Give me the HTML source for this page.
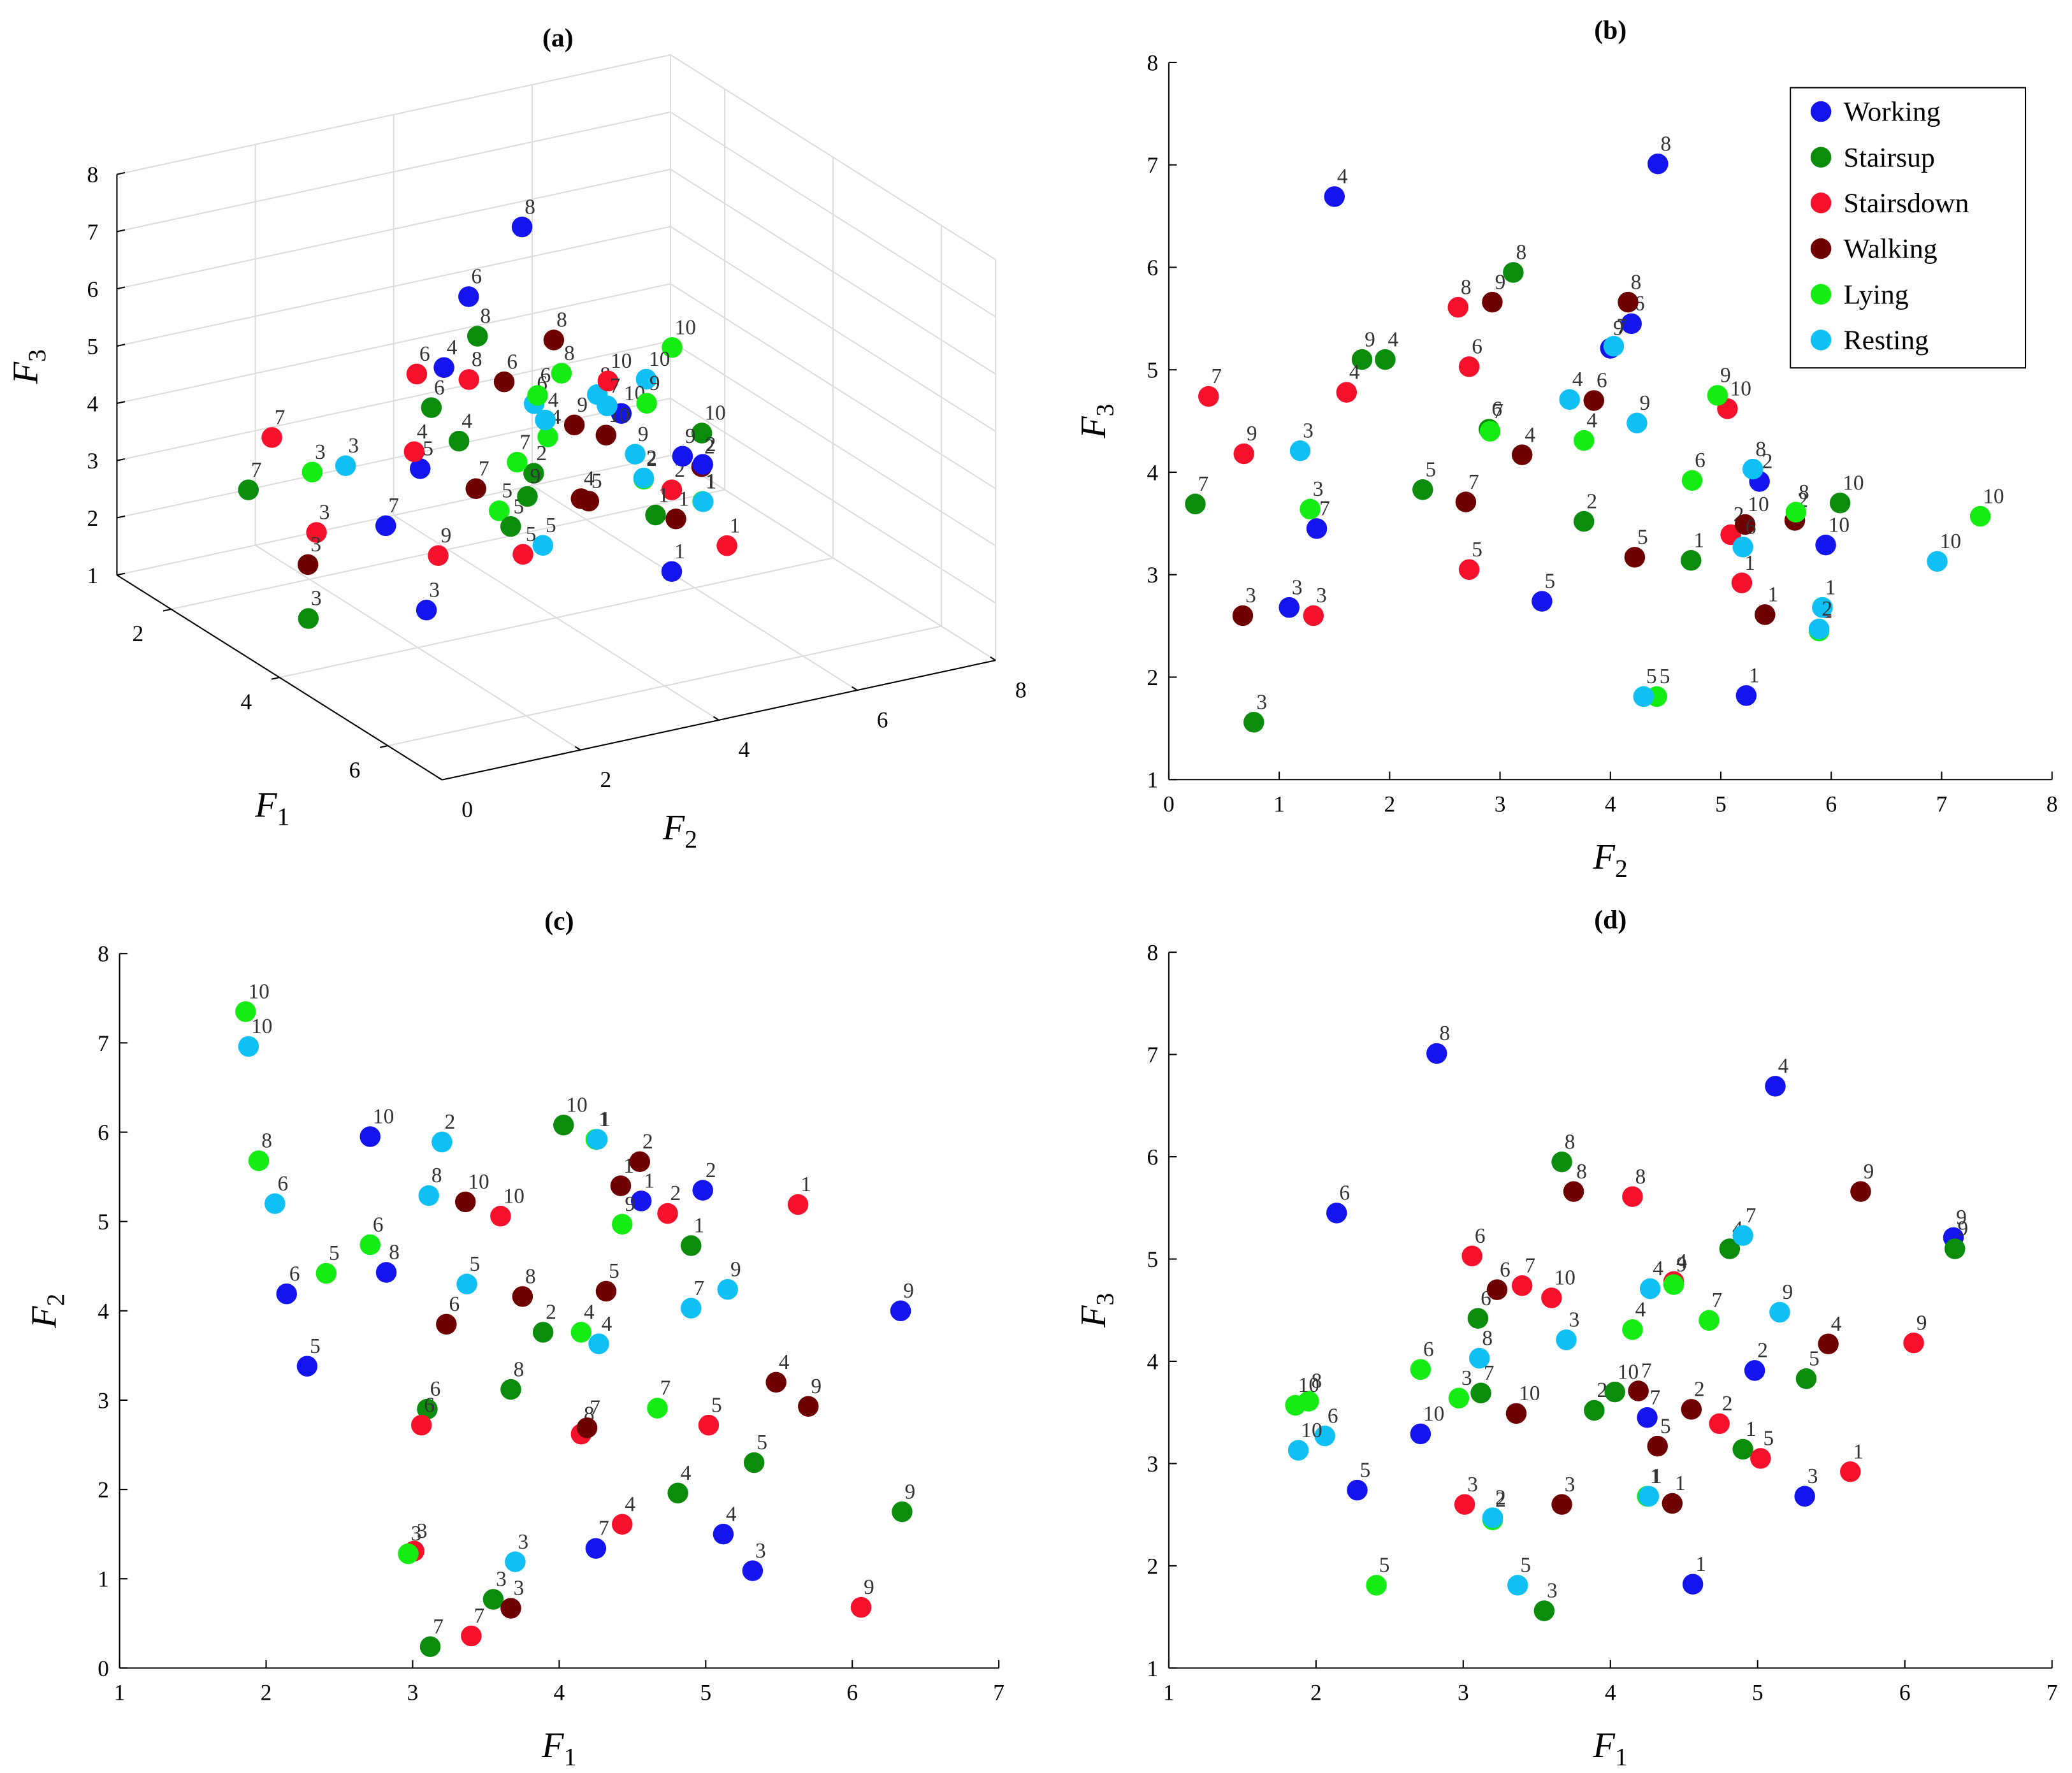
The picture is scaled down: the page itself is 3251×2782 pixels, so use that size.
<!DOCTYPE html>
<html><head><meta charset="utf-8"><title>Feature scatter</title>
<style>
html,body{margin:0;padding:0;background:#fff;}
svg{display:block;font-family:"Liberation Serif","DejaVu Serif",serif;}
</style></head>
<body>
<svg id="fig" xmlns="http://www.w3.org/2000/svg" width="3251" height="2782" viewBox="0 0 1560 1335">
<rect x="0" y="0" width="1560" height="1335" fill="#fff"/>
</svg>
<script>
// ---- data ----
const classNames = ["Working","Stairsup","Stairsdown","Walking","Lying","Resting"];
const classColors = ["#1414ee","#0c8c0c","#f5102c","#6e0000","#14ec14","#10c0f4"];
const pointLabels = [1,2,3,4,5,6,7,8,9,10];
const workingF1 = [4.56,4.98,5.32,5.12,2.28,2.14,4.25,2.82,6.33,2.71];
const workingF2 = [5.23,5.35,1.09,1.50,3.38,4.19,1.34,4.43,4.00,5.95];
const workingF3 = [1.82,3.91,2.68,6.69,2.74,5.45,3.45,7.01,5.21,3.29];
const stairsupF1 = [4.90,3.89,3.55,4.81,5.33,3.10,3.12,3.67,6.34,4.03];
const stairsupF2 = [4.73,3.76,0.77,1.96,2.30,2.90,0.24,3.12,1.75,6.08];
const stairsupF3 = [3.14,3.52,1.56,5.10,3.83,4.42,3.69,5.95,5.10,3.70];
const stairsdownF1 = [5.63,4.74,3.01,4.43,5.02,3.06,3.40,4.15,6.06,3.60];
const stairsdownF2 = [5.19,5.09,1.31,1.61,2.72,2.72,0.36,2.62,0.68,5.06];
const stairsdownF3 = [2.92,3.39,2.60,4.78,3.05,5.03,4.74,5.61,4.18,4.62];
const walkingF1 = [4.42,4.55,3.67,5.48,4.32,3.23,4.19,3.75,5.70,3.36];
const walkingF2 = [5.40,5.67,0.67,3.20,4.22,3.85,2.69,4.16,2.93,5.22];
const walkingF3 = [2.61,3.53,2.60,4.17,3.17,4.70,3.71,5.66,5.66,3.49];
const lyingF1 = [4.25,3.20,2.97,4.15,2.41,2.71,4.67,1.95,4.43,1.86];
const lyingF2 = [5.92,5.89,1.28,3.76,4.42,4.74,2.91,5.68,4.97,7.35];
const lyingF3 = [2.68,2.45,3.64,4.31,1.81,3.92,4.40,3.61,4.75,3.57];
const restingF1 = [4.26,3.20,3.70,4.27,3.37,2.06,4.90,3.11,5.15,1.88];
const restingF2 = [5.92,5.89,1.19,3.63,4.30,5.20,4.03,5.29,4.24,6.96];
const restingF3 = [2.68,2.47,4.21,4.71,1.81,3.27,5.23,4.03,4.48,3.13];
const f1Ticks = [1,2,3,4,5,6,7];
const f2Ticks = [0,1,2,3,4,5,6,7,8];
const f3Ticks = [1,2,3,4,5,6,7,8];

const allF1 = [workingF1,stairsupF1,stairsdownF1,walkingF1,lyingF1,restingF1];
const allF2 = [workingF2,stairsupF2,stairsdownF2,walkingF2,lyingF2,restingF2];
const allF3 = [workingF3,stairsupF3,stairsdownF3,walkingF3,lyingF3,restingF3];

const NS = "http://www.w3.org/2000/svg";
const svg = document.getElementById("fig");
function mk(tag, attrs, parent){
  const e = document.createElementNS(NS, tag);
  for (const k in attrs) e.setAttribute(k, attrs[k]);
  (parent||svg).appendChild(e);
  return e;
}
function txt(s, x, y, size, anchor, parent, extra){
  const t = mk("text", Object.assign({x:x, y:y, "font-size":size, "text-anchor":anchor||"middle", fill:"#000"}, extra||{}), parent);
  t.textContent = s;
  return t;
}
function axisLabel(name, sub, x, y, parent, rot){
  const t = mk("text", {x:x, y:y, "font-size":27, "text-anchor":"middle", fill:"#000", "font-style":"italic"}, parent);
  if (rot) t.setAttribute("transform", "rotate(-90 "+x+" "+y+")");
  const a = document.createElementNS(NS,"tspan"); a.textContent = name; t.appendChild(a);
  const b = document.createElementNS(NS,"tspan"); b.setAttribute("font-size","19"); b.setAttribute("font-style","normal"); b.setAttribute("dy","6"); b.textContent = sub; t.appendChild(b);
  return t;
}
const R = 7.8;
function drawPoint(g, px, py, ci, li){
  const c = mk("circle", {cx:px, cy:py, r:R, fill:classColors[ci]}, g);
  
  
  const t = txt(String(pointLabels[li]), px + 2, py - 10, 16, "start", g, {fill:"#333"});
  
  
}

// ---- 2D panel ----
function panel2D(name, title, box, xr, yr, xTicks, yTicks, xs, ys, xl, yl){
  const g = mk("g", {});
  
  
  const [x0,y0,x1,y1] = box;
  const sx = v => x0 + (v - xr[0]) / (xr[1]-xr[0]) * (x1-x0);
  const sy = v => y1 - (v - yr[0]) / (yr[1]-yr[0]) * (y1-y0);
  mk("line", {x1:x0, y1:y1, x2:x1, y2:y1, stroke:"#000", "stroke-width":1}, g);
  mk("line", {x1:x0, y1:y0, x2:x0, y2:y1, stroke:"#000", "stroke-width":1}, g);
  xTicks.forEach(v => {
    mk("line", {x1:sx(v), y1:y1, x2:sx(v), y2:y1-6, stroke:"#000"}, g);
    txt(String(v), sx(v), y1+24, 17, "middle", g);
  });
  yTicks.forEach(v => {
    mk("line", {x1:x0, y1:sy(v), x2:x0+6, y2:sy(v), stroke:"#000"}, g);
    txt(String(v), x0-8, sy(v)+6, 17, "end", g);
  });
  const tt = txt(title, (x0+x1)/2, y0-18, 20, "middle", g, {"font-weight":"bold"});
  
  
  const xa = axisLabel(xl[0], xl[1], (x0+x1)/2, y1+67, g, false);
  
  
  const ya = axisLabel(yl[0], yl[1], x0-48, (y0+y1)/2, g, true);
  
  
  for (let ci=0; ci<6; ci++){
    for (let li=0; li<10; li++){
      drawPoint(g, sx(xs[ci][li]), sy(ys[ci][li]), ci, li);
    }
  }
  return g;
}

// ---- 3D panel (a) ----
(function(){
  const g = mk("g", {});
  
  
  const O = [88,433], U1 = [40.8,25.7], U2 = [52.1,-11.25], U3 = 43.1;
  const P = (a,b,c) => [O[0] + (a-1)*U1[0] + b*U2[0], O[1] + (a-1)*U1[1] + b*U2[1] - (c-1)*U3];
  const gl = (p,q) => mk("line", {x1:p[0], y1:p[1], x2:q[0], y2:q[1], stroke:"#dcdcdc", "stroke-width":1}, g);
  [0,2,4,6,8].forEach(b => gl(P(1,b,1), P(1,b,8)));
  f3Ticks.forEach(c => gl(P(1,0,c), P(1,8,c)));
  [1,2,4,6,7].forEach(a => gl(P(a,8,1), P(a,8,8)));
  f3Ticks.forEach(c => gl(P(1,8,c), P(7,8,c)));
  [2,4,6].forEach(a => gl(P(a,0,1), P(a,8,1)));
  [2,4,6,8].forEach(b => gl(P(1,b,1), P(7,b,1)));
  const al = (p,q) => mk("line", {x1:p[0], y1:p[1], x2:q[0], y2:q[1], stroke:"#000", "stroke-width":1}, g);
  al(P(1,0,1), P(7,0,1)); al(P(7,0,1), P(7,8,1)); al(P(1,0,1), P(1,0,8));
  [2,4,6].forEach(a => { const p = P(a,0,1); al(p, [p[0]-6, p[1]+1.3]); txt(String(a), p[0]-25, p[1]+24, 17, "middle", g); });
  [0,2,4,6,8].forEach(b => { const p = P(7,b,1); al(p, [p[0]-4, p[1]-2.5]); txt(String(b), p[0]+19, p[1]+28, 17, "middle", g); });
  f3Ticks.forEach(c => { const p = P(1,0,c); al(p, [p[0]+6, p[1]-1.3]); txt(String(c), p[0]-14, p[1]+6, 17, "end", g); });
  const tt = txt("(a)", 420, 35, 20, "middle", g, {"font-weight":"bold"});
  
  
  const a1 = axisLabel("F", "1", 205, 615, g, false);
  
  
  const a2 = axisLabel("F", "2", 512, 632, g, false);
  
  
  const a3 = axisLabel("F", "3", 28, 276, g, true);
  
  
  const pts = [];
  for (let ci=0; ci<6; ci++) for (let li=0; li<10; li++){
    pts.push({ci:ci, li:li, d: allF1[ci][li]/6 - allF2[ci][li]/8});
  }
  pts.sort((p,q) => p.d - q.d);
  pts.forEach(p => {
    const s = P(allF1[p.ci][p.li], allF2[p.ci][p.li], allF3[p.ci][p.li]);
    drawPoint(g, s[0], s[1], p.ci, p.li);
  });
})();

panel2D("panel-b-f2-f3", "(b)", [880,47,1545,587], [0,8], [1,8], f2Ticks, f3Ticks, allF2, allF3, ["F","2"], ["F","3"]);
panel2D("panel-c-f1-f2", "(c)", [90,718,752,1256], [1,7], [0,8], f1Ticks, f2Ticks, allF1, allF2, ["F","1"], ["F","2"]);
panel2D("panel-d-f1-f3", "(d)", [880,717,1545,1256], [1,7], [1,8], f1Ticks, f3Ticks, allF1, allF3, ["F","1"], ["F","3"]);

// ---- legend ----
(function(){
  const g = mk("g", {});
  
  
  mk("rect", {x:1348, y:66, width:177, height:211, fill:"#fff", stroke:"#000", "stroke-width":1}, g);
  classNames.forEach((n,i) => {
    const y = 84 + i*34.4;
    const e = mk("g", {}, g);
    
    
    mk("circle", {cx:1371, cy:y, r:R, fill:classColors[i]}, e);
    txt(n, 1388, y+7, 21, "start", e);
  });
})();
</script>
</body></html>
